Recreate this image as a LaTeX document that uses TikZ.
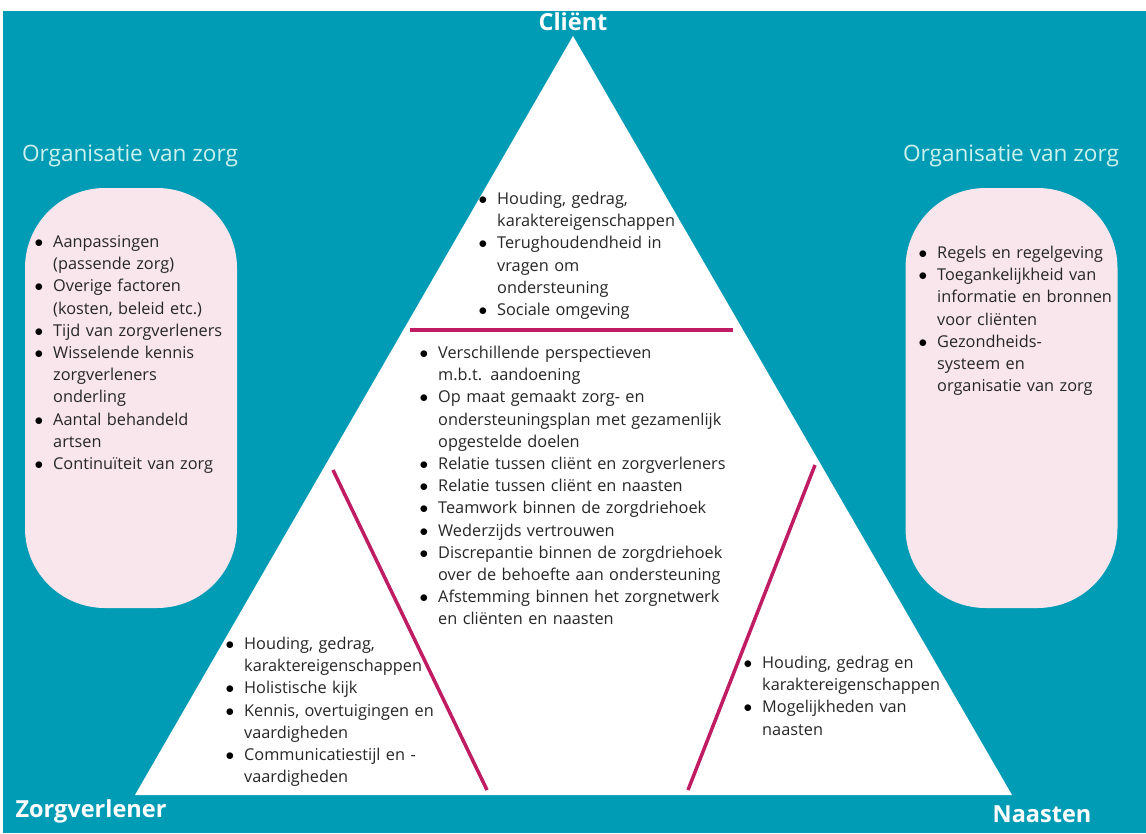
\documentclass[tikz,border=0pt]{standalone}
\usepackage{fontspec}
\setmainfont{Open Sans}
\usepackage{enumitem}

\definecolor{zeeblauw}{RGB}{0,155,180}
\definecolor{roze}{RGB}{248,230,236}
\definecolor{paars}{RGB}{192,28,100}
\definecolor{mint}{RGB}{205,242,238}
\definecolor{tekst}{RGB}{38,38,38}

\newenvironment{punten}{\begin{itemize}[label=\textcolor{black}{$\bullet$}, leftmargin=15pt, labelwidth=5pt, labelsep=10pt, topsep=0pt, itemsep=0pt, parsep=0pt, partopsep=0pt]}{\end{itemize}}

\tikzset{
  lijst/.style={anchor=north west, text width=360pt, align=left, inner sep=0pt, text=tekst, font=\fontsize{16.3}{22.2}\selectfont},
  hoek/.style={text=white, font=\fontsize{23.5}{26}\selectfont\bfseries},
  kop/.style={text=mint, font=\fontsize{22.6}{26}\selectfont},
  vak/.style={fill=roze, rounded corners=80pt, minimum width=212pt, minimum height=420pt},
  streep/.style={paars, line width=3.5pt}
}

\begin{document}
\begin{tikzpicture}[x=1pt,y=-1pt]
  \useasboundingbox (0,0) rectangle (1146,833);
  \fill[white] (0,0) rectangle (1146,833);
  \fill[zeeblauw] (3,11) rectangle (1146,833);

  % driehoek
  \fill[white] (573,36) -- (135,795) -- (1012,795) -- cycle;
  \draw[streep] (410,330) -- (733,330);
  \draw[streep] (333,470) -- (487,790);
  \draw[streep] (815,465) -- (688,790);

  % hoeken
  \node[hoek] (client) at (573,22) {Cliënt};
  \node[hoek] (zorgverlener) at (91,811) {Zorgverlener};
  \node[hoek] (naasten) at (1042,814) {Naasten};

  % organisatie van zorg
  \node[kop] (kopLinks) at (130,156) {Organisatie van zorg};
  \node[kop] (kopRechts) at (1011,156) {Organisatie van zorg};
  \node[vak] (vakLinks) at (131,398) {};
  \node[vak] (vakRechts) at (1011.5,398) {};

  \node[lijst] (lijstLinks) at (38,225) {\begin{punten}
    \item Aanpassingen\\(passende zorg)
    \item Overige factoren\\(kosten, beleid etc.)
    \item Tijd van zorgverleners
    \item Wisselende kennis\\zorgverleners\\onderling
    \item Aantal behandeld\\artsen
    \item Continuïteit van zorg
  \end{punten}};
  \node[lijst] (lijstRechts) at (922,236) {\begin{punten}
    \item Regels en regelgeving
    \item Toegankelijkheid van\\informatie en bronnen\\voor cliënten
    \item Gezondheids-\\systeem en\\organisatie van zorg
  \end{punten}};

  % binnen de driehoek
  \node[lijst] (lijstClient) at (482,182) {\begin{punten}
    \item Houding, gedrag,\\karaktereigenschappen
    \item Terughoudendheid in\\vragen om\\ondersteuning
    \item Sociale omgeving
  \end{punten}};
  \node[lijst] (lijstMidden) at (423,336) {\begin{punten}
    \item Verschillende perspectieven\\m.b.t. aandoening
    \item Op maat gemaakt zorg- en\\ondersteuningsplan met gezamenlijk\\opgestelde doelen
    \item Relatie tussen cliënt en zorgverleners
    \item Relatie tussen cliënt en naasten
    \item Teamwork binnen de zorgdriehoek
    \item Wederzijds vertrouwen
    \item Discrepantie binnen de zorgdriehoek\\over de behoefte aan ondersteuning
    \item Afstemming binnen het zorgnetwerk\\en cliënten en naasten
  \end{punten}};
  \node[lijst] (lijstZorg) at (229,627) {\begin{punten}
    \item Houding, gedrag,\\karaktereigenschappen
    \item Holistische kijk
    \item Kennis, overtuigingen en\\vaardigheden
    \item Communicatiestijl en -\\vaardigheden
  \end{punten}};
  \node[lijst] (lijstNaasten) at (747,646) {\begin{punten}
    \item Houding, gedrag en\\karaktereigenschappen
    \item Mogelijkheden van\\naasten
  \end{punten}};
\end{tikzpicture}
\end{document}
